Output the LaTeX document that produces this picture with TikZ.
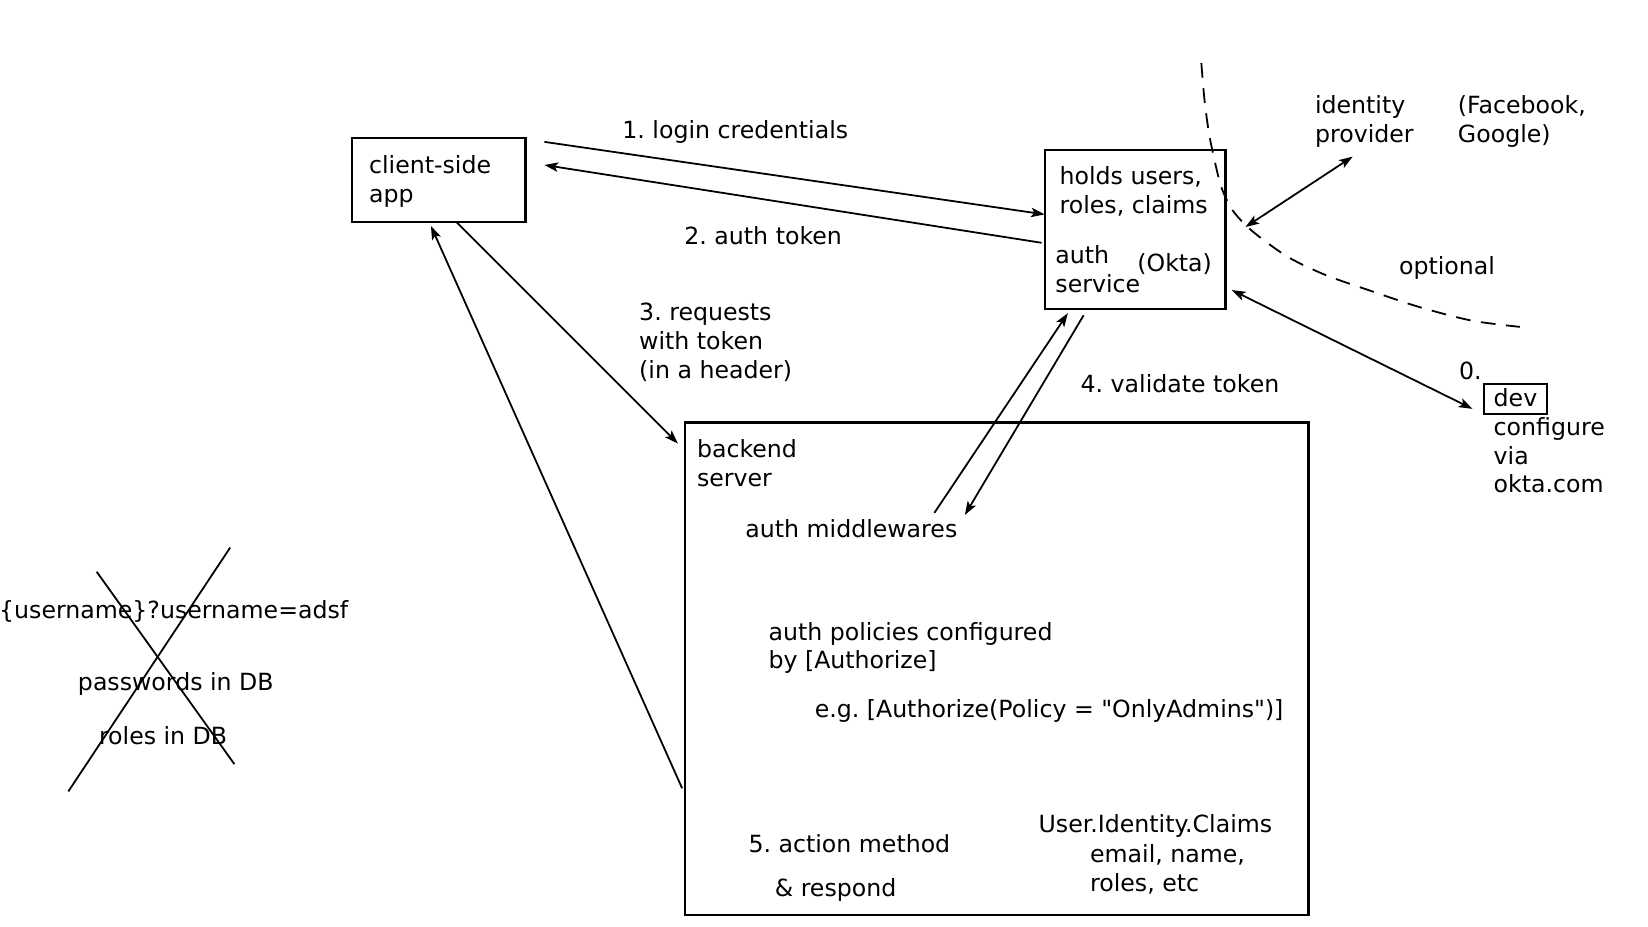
\documentclass[tikz,border=0pt]{standalone}
\usepackage{fontspec}
\setmainfont{DejaVu Sans}[Ligatures=TeXOff]
\usetikzlibrary{arrows.meta}
\frenchspacing
\begin{document}
\begin{tikzpicture}[x=1pt,y=-1pt,
  every node/.style={font=\fontsize{22.5}{27.5}\selectfont},
  txt/.style={inner sep=0pt,anchor=base west,align=left},
  box/.style={draw,line width=2pt,inner sep=0pt},
  link/.style={line width=1.7pt},
  tip/.style={-{Stealth[length=13pt,width=9pt,inset=3pt]}},
  dtip/.style={{Stealth[length=13pt,width=9pt,inset=3pt]}-{Stealth[length=13pt,width=9pt,inset=3pt]}}]
\useasboundingbox (0,0) rectangle (1568,882);

% boxes
\node[box,minimum width=165pt,minimum height=80pt] (client) at (417.5,171) {};
\node[box,minimum width=172pt,minimum height=151pt] (auth) at (1080,218.5) {};
\node[box,minimum width=593pt,minimum height=469pt] (backend) at (948.5,636.5) {};
\node[box,minimum width=60pt,minimum height=29pt] (dev) at (1442,379.5) {};

% box texts (a multi-line node sits on the baseline of its last line)
\node[txt] (clienttxt) at (351,192.5) {client-side\\app};
\node[txt] (holds) at (1008,203.5) {holds users,\\roles, claims};
\node[txt] (authsvc) at (1004,278.5) {auth\\service};
\node[txt] (okta) at (1082,258) {(Okta)};
\node[txt] (devtxt) at (1421,387) {dev};
\node[txt] (configure) at (1421,469) {configure\\via\\okta.com};
\node[txt] (zero) at (1388,361) {0.};
\node[txt] (backtxt) at (663,462.5) {backend\\server};
\node[txt] (mw) at (709,511) {auth middlewares};
\node[txt] (policies) at (731,636.5) {auth policies configured\\by [Authorize]};
\node[txt] (example) at (775,683) {e.g. [Authorize(Policy = "OnlyAdmins")]};
\node[txt] (action) at (712,811) {5. action method};
\node[txt] (respond) at (737,853) {\& respond};
\node[txt] (claims) at (988,792) {User.Identity.Claims};
\node[txt] (claimlist) at (1037,848.5) {email, name,\\roles, etc};

% connector labels
\node[txt] (l1) at (592,132) {1. login credentials};
\node[txt] (l2) at (651,233) {2. auth token};
\node[txt] (l3) at (608,360) {3. requests\\with token\\(in a header)};
\node[txt] (l4) at (1028,373) {4. validate token};
\node[txt] (idp) at (1251,135.5) {identity\\provider};
\node[txt] (idpex) at (1387,135.5) {(Facebook,\\Google)};
\node[txt] (opt) at (1331,261) {optional};

% crossed-out notes
\node[txt] (route) at (-1,588) {\{username\}?username=adsf};
\node[txt] (pwd) at (74,657) {passwords in DB};
\node[txt] (roles) at (94,708) {roles in DB};
\draw[link] (92,544) -- (223,727);
\draw[link] (219,521) -- (65,753);

% connector end points
\coordinate (p1s) at (518,135);
\coordinate (p1e) at (994,204);
\coordinate (p2s) at (991,231);
\coordinate (p2e) at (518,157);
\coordinate (p3s) at (434,211);
\coordinate (p3e) at (645,422);
\coordinate (p5s) at (649,750);
\coordinate (p5e) at (410,215);
\coordinate (p4as) at (889,488);
\coordinate (p4ae) at (1016,298);
\coordinate (p4bs) at (1031,300);
\coordinate (p4be) at (918,490);
\coordinate (pis) at (1185,216);
\coordinate (pie) at (1287,149);
\coordinate (pds) at (1172,276);
\coordinate (pde) at (1401,389);

% connectors
\draw[link,tip] (p1s) -- (p1e);
\draw[link,tip] (p2s) -- (p2e);
\draw[link,tip] (p3s) -- (p3e);
\draw[link,tip] (p5s) -- (p5e);
\draw[link,tip] (p4as) -- (p4ae);
\draw[link,tip] (p4bs) -- (p4be);
\draw[link,dtip] (pis) -- (pie);
\draw[link,dtip] (pds) -- (pde);

% optional boundary
\draw[link,dash pattern=on 14pt off 10pt] plot[smooth] coordinates
  {(1143,60) (1146,95) (1150,125) (1155,150) (1162,178) (1172,199) (1186,215)
   (1203,229) (1228,246) (1262,262) (1302,276) (1350,292) (1400,305) (1446,311)};
\end{tikzpicture}
\end{document}
